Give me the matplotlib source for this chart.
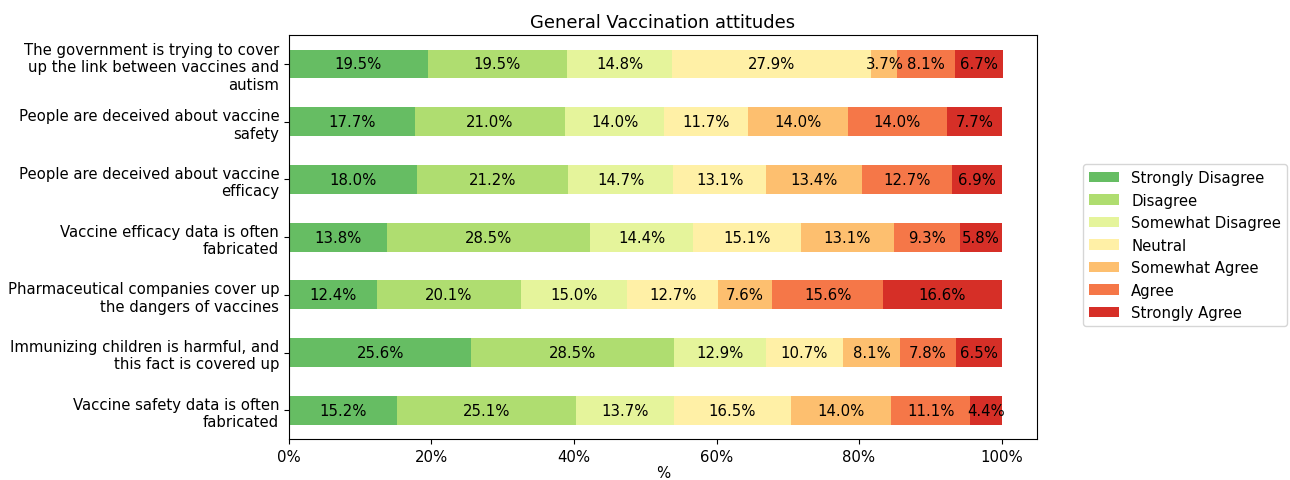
import matplotlib.pyplot as plt
import numpy as np
from matplotlib.ticker import PercentFormatter

plt.rcParams['font.size'] = 10.7

# Survey statements (top to bottom)
statements = [
    'The government is trying to cover\nup the link between vaccines and\nautism',
    'People are deceived about vaccine\nsafety',
    'People are deceived about vaccine\nefficacy',
    'Vaccine efficacy data is often\nfabricated',
    'Pharmaceutical companies cover up\nthe dangers of vaccines',
    'Immunizing children is harmful, and\nthis fact is covered up',
    'Vaccine safety data is often\nfabricated',
]

responses = ['Strongly Disagree', 'Disagree', 'Somewhat Disagree', 'Neutral',
             'Somewhat Agree', 'Agree', 'Strongly Agree']

# Percentages per response (one list per response, statement order as above)
strongly_disagree = [19.5, 17.7, 18.0, 13.8, 12.4, 25.6, 15.2]
disagree = [19.5, 21.0, 21.2, 28.5, 20.1, 28.5, 25.1]
somewhat_disagree = [14.8, 14.0, 14.7, 14.4, 15.0, 12.9, 13.7]
neutral = [27.9, 11.7, 13.1, 15.1, 12.7, 10.7, 16.5]
somewhat_agree = [3.7, 14.0, 13.4, 13.1, 7.6, 8.1, 14.0]
agree = [8.1, 14.0, 12.7, 9.3, 15.6, 7.8, 11.1]
strongly_agree = [6.7, 7.7, 6.9, 5.8, 16.6, 6.5, 4.4]

series = [strongly_disagree, disagree, somewhat_disagree, neutral,
          somewhat_agree, agree, strongly_agree]
colors = plt.cm.RdYlGn_r(np.linspace(0.2, 0.9, 7))

fig = plt.figure(figsize=(12.9, 4.81), dpi=100)
ax = fig.add_axes([0.224, 0.085, 0.58, 0.84])

y = np.arange(len(statements))
left = np.zeros(len(statements))
for name, vals, c in zip(responses, series, colors):
    bars = ax.barh(y, vals, height=0.5, left=left, color=c, label=name)
    ax.bar_label(bars, labels=[f'{v:.1f}%' for v in vals], label_type='center')
    left += np.array(vals)

ax.set_yticks(y)
ax.set_yticklabels(statements)
ax.set_ylim(6.5, -0.5)
ax.set_xlim(0, 105)
ax.xaxis.set_major_formatter(PercentFormatter(decimals=0))
ax.set_xlabel('%', labelpad=1)
ax.set_title('General Vaccination attitudes')
ax.legend(loc='center left', bbox_to_anchor=(1.052, 0.48))

fig.savefig('out.png', dpi=100)
